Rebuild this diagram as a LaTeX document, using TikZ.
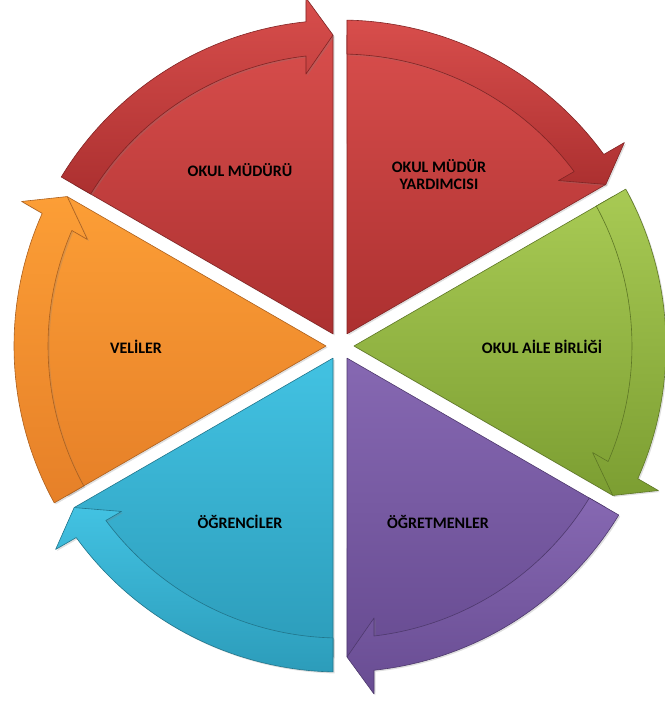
\documentclass[tikz,border=0pt]{standalone}
\usepackage{fontspec}
\setmainfont{Carlito}
\usetikzlibrary{shadows}
\definecolor{kirmiziA}{RGB}{216,78,76}
\definecolor{kirmiziB}{RGB}{172,48,48}
\definecolor{yesilA}{RGB}{168,202,84}
\definecolor{yesilB}{RGB}{124,158,50}
\definecolor{morA}{RGB}{134,104,178}
\definecolor{morB}{RGB}{104,76,146}
\definecolor{maviA}{RGB}{66,194,226}
\definecolor{maviB}{RGB}{44,156,186}
\definecolor{turuncuA}{RGB}{252,158,54}
\definecolor{turuncuB}{RGB}{230,128,40}

\begin{document}
\begin{tikzpicture}[x=1pt,y=1pt,line join=round,
  dilim/.style={draw=#1!75!black,line width=0.6pt,
    drop shadow={shadow xshift=1.5pt,shadow yshift=-1.5pt,opacity=0.25}},
  yazi/.style={font=\fontsize{16}{17}\selectfont\bfseries,align=center}]
\useasboundingbox (-340,-358) rectangle (324,346);
\foreach \a/\ca/\cb in {30/kirmiziA/kirmiziB,90/kirmiziA/kirmiziB,150/turuncuA/turuncuB,
  210/maviA/maviB,270/morA/morB,330/yesilA/yesilB}{
\draw[dilim=\cb,top color=\ca,bottom color=\cb] ({\a+30}:14) -- ({\a+1.29}:311)
  arc[start angle={\a+1.29},end angle={\a+58.71},radius=311pt] -- cycle;
\draw[dilim=\cb,top color=\ca,bottom color=\cb] ({\a+58.77}:326)
  arc[start angle={\a+58.77},end angle={\a+5.99},radius=326pt]
  -- ({\a+5.58}:349.66) -- ({\a+1.29}:311.08) -- ({\a+7.13}:274.1) -- ({\a+6.69}:292)
  arc[start angle={\a+6.69},end angle={\a+58.63},radius=292pt] -- cycle;
}
\node[yazi] (mudur) at (-100,176) {OKUL MÜDÜRÜ};
\node[yazi] (yardimci) at (99,171) {OKUL MÜDÜR\\YARDIMCISI};
\node[yazi] (aile) at (202,-1) {OKUL AİLE BİRLİĞİ};
\node[yazi] (veli) at (-204,-1) {VELİLER};
\node[yazi] (ogrenci) at (-100,-176) {ÖĞRENCİLER};
\node[yazi] (ogretmen) at (98,-176) {ÖĞRETMENLER};
\end{tikzpicture}
\end{document}
